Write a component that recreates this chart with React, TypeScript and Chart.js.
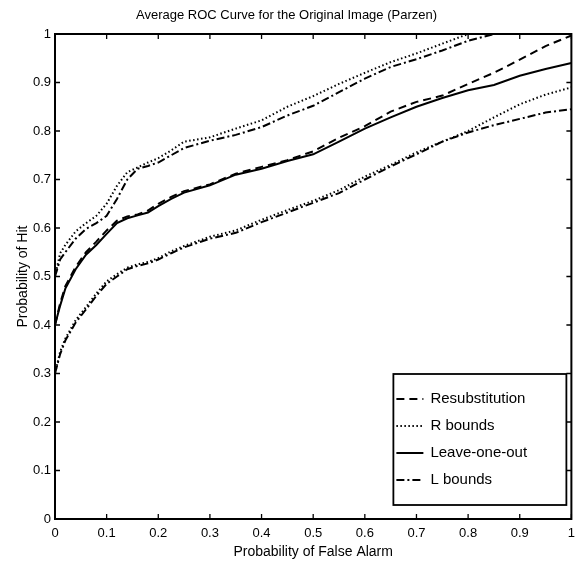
import React, { useEffect, useRef } from "react";
import { Chart, registerables } from "chart.js";

Chart.register(...registerables);

const titleText = "Average ROC Curve for the Original Image (Parzen)";
const xTitle = "Probability of False Alarm";
const yTitle = "Probability of Hit";

const falseAlarm = [0, 0.01, 0.02, 0.04, 0.06, 0.08, 0.1, 0.12, 0.14, 0.16, 0.18, 0.2, 0.225, 0.25, 0.3, 0.35, 0.4, 0.45, 0.5, 0.55, 0.6, 0.65, 0.7, 0.75, 0.8, 0.85, 0.9, 0.95, 1.0];

const resubstitution = [0.4, 0.445, 0.48, 0.52, 0.55, 0.572, 0.595, 0.615, 0.624, 0.628, 0.636, 0.65, 0.664, 0.676, 0.69, 0.712, 0.726, 0.74, 0.758, 0.786, 0.81, 0.84, 0.86, 0.873, 0.897, 0.92, 0.947, 0.975, 0.997];
const leaveOneOut = [0.4, 0.44, 0.475, 0.515, 0.545, 0.565, 0.588, 0.61, 0.62, 0.626, 0.632, 0.645, 0.66, 0.673, 0.688, 0.71, 0.722, 0.738, 0.752, 0.778, 0.805, 0.828, 0.85, 0.868, 0.884, 0.895, 0.914, 0.928, 0.94];
const rBoundUpper = [0.5, 0.548, 0.565, 0.593, 0.61, 0.625, 0.65, 0.687, 0.715, 0.725, 0.735, 0.744, 0.76, 0.778, 0.787, 0.805, 0.822, 0.85, 0.872, 0.897, 0.92, 0.942, 0.96, 0.98, 1.0, 1.0, 1.0, 1.0, 1.0];
const rBoundLower = [0.3, 0.345, 0.372, 0.41, 0.437, 0.465, 0.49, 0.505, 0.518, 0.525, 0.53, 0.538, 0.552, 0.563, 0.582, 0.595, 0.617, 0.637, 0.656, 0.678, 0.706, 0.73, 0.756, 0.778, 0.8, 0.828, 0.855, 0.875, 0.89];
const lBoundUpper = [0.5, 0.535, 0.55, 0.578, 0.598, 0.61, 0.625, 0.66, 0.7, 0.722, 0.728, 0.735, 0.75, 0.765, 0.78, 0.792, 0.808, 0.832, 0.852, 0.88, 0.908, 0.932, 0.948, 0.966, 0.986, 1.0, 1.0, 1.0, 1.0];
const lBoundLower = [0.3, 0.34, 0.368, 0.405, 0.432, 0.46, 0.485, 0.5, 0.515, 0.522, 0.527, 0.535, 0.548, 0.56, 0.578, 0.59, 0.612, 0.632, 0.652, 0.672, 0.7, 0.727, 0.752, 0.778, 0.797, 0.812, 0.825, 0.838, 0.845];

const legendLabels = ["Resubstitution", "R bounds", "Leave-one-out", "L bounds"];

const FONT = "'Liberation Sans', Arial, sans-serif";

const dashStyles: Record<string, number[]> = {
  dashed: [8, 5],
  dotted: [1.5, 2.5],
  solid: [],
  dashdot: [8, 3, 2, 3],
};
const legendStyles = ["dashed", "dotted", "solid", "dashdot"];

const toPts = (ys: number[]) => ys.map((y, i) => ({ x: falseAlarm[i], y }));

const framePlugin = {
  id: "frameTicks",
  afterDatasetsDraw(chart: any) {
    const { ctx, chartArea, scales } = chart;
    const { left, right, top, bottom } = chartArea;
    ctx.save();
    ctx.strokeStyle = "#000";
    ctx.lineWidth = 2;
    ctx.setLineDash([]);
    ctx.strokeRect(left, top, right - left, bottom - top);
    ctx.lineWidth = 1.3;
    const tl = 5;
    scales.x.ticks.forEach((t: any) => {
      const px = scales.x.getPixelForValue(t.value);
      ctx.beginPath();
      ctx.moveTo(px, bottom);
      ctx.lineTo(px, bottom - tl);
      ctx.moveTo(px, top);
      ctx.lineTo(px, top + tl);
      ctx.stroke();
    });
    scales.y.ticks.forEach((t: any) => {
      const py = scales.y.getPixelForValue(t.value);
      ctx.beginPath();
      ctx.moveTo(left, py);
      ctx.lineTo(left + tl, py);
      ctx.moveTo(right, py);
      ctx.lineTo(right - tl, py);
      ctx.stroke();
    });
    ctx.restore();
  },
  afterDraw(chart: any) {
    const { ctx, chartArea } = chart;
    const bx = chartArea.right - 178;
    const bw = 173;
    const by = chartArea.bottom - 145;
    const bh = 131;
    ctx.save();
    ctx.fillStyle = "#fff";
    ctx.fillRect(bx, by, bw, bh);
    ctx.strokeStyle = "#000";
    ctx.lineWidth = 1.8;
    ctx.setLineDash([]);
    ctx.strokeRect(bx, by, bw, bh);
    ctx.font = `15px ${FONT}`;
    ctx.fillStyle = "#000";
    ctx.textBaseline = "middle";
    legendLabels.forEach((lab, i) => {
      const yy = by + 25 + i * 27;
      ctx.beginPath();
      ctx.lineWidth = 2;
      ctx.setLineDash(dashStyles[legendStyles[i]]);
      ctx.moveTo(bx + 3, yy);
      ctx.lineTo(bx + 30, yy);
      ctx.stroke();
      ctx.setLineDash([]);
      ctx.fillText(lab, bx + 37, yy);
    });
    ctx.restore();
  },
};

export default function App() {
  const ref = useRef<HTMLCanvasElement | null>(null);
  useEffect(() => {
    if (!ref.current) return;
    const mk = (label: string, ys: number[], style: string) => ({
      label,
      data: toPts(ys),
      borderColor: "#000",
      backgroundColor: "#000",
      borderWidth: 2,
      borderDash: dashStyles[style],
      pointRadius: 0,
      tension: 0,
      fill: false,
    });
    const fmt = (v: any) => String(Number(Number(v).toFixed(1)));
    const chart = new Chart(ref.current, {
      type: "line",
      data: {
        datasets: [
          mk("Resubstitution", resubstitution, "dashed"),
          mk("R bounds", rBoundUpper, "dotted"),
          mk("R bounds (lower)", rBoundLower, "dotted"),
          mk("Leave-one-out", leaveOneOut, "solid"),
          mk("L bounds", lBoundUpper, "dashdot"),
          mk("L bounds (lower)", lBoundLower, "dashdot"),
        ],
      },
      options: {
        responsive: false,
        animation: false,
        devicePixelRatio: 1,
        layout: { padding: { left: 0, right: 9, top: 0, bottom: 0 } },
        plugins: {
          legend: { display: false },
          tooltip: { enabled: false },
          title: {
            display: true,
            text: titleText,
            color: "#000",
            font: { family: FONT, size: 13, weight: "normal" },
            padding: { top: 8, bottom: 10.4 },
          },
        },
        scales: {
          x: {
            type: "linear",
            min: 0,
            max: 1,
            grid: { display: false, drawTicks: false, tickLength: 0 },
            border: { display: false },
            ticks: {
              stepSize: 0.1,
              color: "#000",
              padding: 7,
              maxRotation: 0,
              font: { family: FONT, size: 13 },
              callback: fmt,
            },
            title: {
              display: true,
              text: xTitle,
              color: "#000",
              font: { family: FONT, size: 14 },
              padding: { top: 0, bottom: 4 },
            },
            afterFit: (s: any) => {
              s.height = 46;
            },
          },
          y: {
            type: "linear",
            min: 0,
            max: 1,
            grid: { display: false, drawTicks: false, tickLength: 0 },
            border: { display: false },
            ticks: {
              stepSize: 0.1,
              color: "#000",
              padding: 4,
              font: { family: FONT, size: 13 },
              callback: fmt,
            },
            title: {
              display: true,
              text: yTitle,
              color: "#000",
              font: { family: FONT, size: 14 },
              padding: { top: 15, bottom: 0 },
            },
            afterFit: (s: any) => {
              s.width = 55;
            },
          },
        },
      },
      plugins: [framePlugin],
    });
    return () => chart.destroy();
  }, []);
  return (
    <div style={{ position: "fixed", left: 0, top: 0, width: 582, height: 565, background: "#fff" }}>
      <canvas ref={ref} width={582} height={565} />
    </div>
  );
}
